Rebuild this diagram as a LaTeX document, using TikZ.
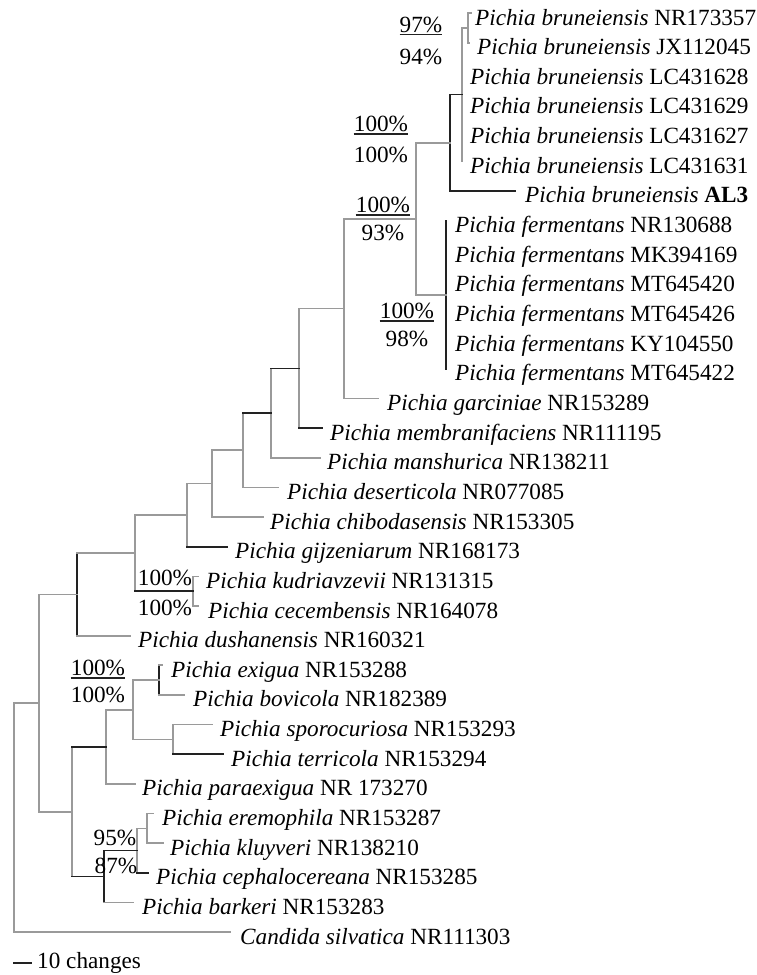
\documentclass[tikz,border=0pt]{standalone}
\usepackage{fontspec}
\setmainfont{Liberation Serif}
\definecolor{treegrey}{HTML}{9A9A9A}
\definecolor{treedark}{HTML}{222222}
\begin{document}
\begin{tikzpicture}[x=1pt,y=-1pt,
  gl/.style={draw=treegrey,line width=1.7pt,line cap=rect},
  dl/.style={draw=treedark,line width=1.7pt,line cap=rect},
  lab/.style={anchor=base west,inner sep=0pt,font=\fontsize{23.2}{26}\selectfont},
  pct/.style={anchor=base,inner sep=0pt,font=\fontsize{23.2}{26}\selectfont},
  ul/.style={draw=treedark,line width=1.3pt}]
\fill[white] (0,0) rectangle (757,975);
\useasboundingbox (0,0) rectangle (757,975);
% leaf ends
\coordinate (e1) at (471,13);
\coordinate (e2) at (469,42.65);
\coordinate (e3) at (462,72.3);
\coordinate (e4) at (462,101.95);
\coordinate (e5) at (462,131.6);
\coordinate (e6) at (462,161.25);
\coordinate (e7) at (515,190.9);
\coordinate (e8) at (446,220.55);
\coordinate (e13) at (446,368.8);
\coordinate (e14) at (378,398.45);
\coordinate (e15) at (322,428.1);
\coordinate (e16) at (320,457.75);
\coordinate (e17) at (278,487.4);
\coordinate (e18) at (263,517.05);
\coordinate (e19) at (227,546.7);
\coordinate (e20) at (198,576.35);
\coordinate (e21) at (198,606);
\coordinate (e22) at (130,635.65);
\coordinate (e23) at (162,665.3);
\coordinate (e24) at (184,694.95);
\coordinate (e25) at (212,724.6);
\coordinate (e26) at (223,754.25);
\coordinate (e27) at (135,783.9);
\coordinate (e28) at (153,813.55);
\coordinate (e29) at (163,843.2);
\coordinate (e30) at (148,872.85);
\coordinate (e31) at (133,902.5);
\coordinate (e32) at (230,932.15);
% internal nodes
\coordinate (L) at (468,27.8);
\coordinate (K) at (462,94.5);
\coordinate (J) at (450,142.7);
\coordinate (X) at (446,294.7);
\coordinate (W) at (416,218.7);
\coordinate (I) at (344,308.6);
\coordinate (H) at (299,368.4);
\coordinate (G) at (271,413.1);
\coordinate (F) at (243,450.2);
\coordinate (E) at (212,483.6);
\coordinate (D) at (187,515.2);
\coordinate (V) at (193,591.2);
\coordinate (C) at (135,553.2);
\coordinate (B) at (77,594.4);
\coordinate (P) at (159,680.1);
\coordinate (Q) at (173,739.4);
\coordinate (O) at (133,709.8);
\coordinate (N) at (106,746.8);
\coordinate (U) at (147,828.4);
\coordinate (T) at (137,850.6);
\coordinate (S) at (104,876.6);
\coordinate (M) at (72,811.7);
\coordinate (A) at (39,703);
\coordinate (R) at (14,703);
% verticals
\draw[gl] (L |- e1) -- (L |- e2);
\draw[gl] (K |- L) -- (K |- e6);
\draw[dl] (J |- K) -- (J |- e7);
\draw[dl] (X |- e8) -- (X |- e13);
\draw[gl] (W |- J) -- (W |- X);
\draw[gl] (I |- W) -- (I |- e14);
\draw[gl] (H |- I) -- (H |- e15);
\draw[gl] (G |- H) -- (G |- e16);
\draw[gl] (F |- G) -- (F |- e17);
\draw[gl] (E |- F) -- (E |- e18);
\draw[gl] (D |- E) -- (D |- e19);
\draw[gl] (V |- e20) -- (V |- e21);
\draw[gl] (C |- D) -- (C |- V);
\draw[dl] (B |- C) -- (B |- e22);
\draw[dl] (P |- e23) -- (P |- e24);
\draw[gl] (Q |- e25) -- (Q |- e26);
\draw[gl] (O |- P) -- (O |- Q);
\draw[gl] (N |- O) -- (N |- e27);
\draw[gl] (U |- e28) -- (U |- e29);
\draw[gl] (T |- U) -- (T |- e30);
\draw[dl] (S |- T) -- (S |- e31);
\draw[gl] (M |- N) -- (M |- S);
\draw[gl] (A |- B) -- (A |- M);
\draw[gl] (R |- A) -- (R |- e32);
% horizontals to internal nodes
\draw[gl] (K |- L) -- (L);
\draw[dl] (J |- K) -- (K);
\draw[gl] (W |- J) -- (J);
\draw[gl] (W |- X) -- (X);
\draw[gl] (I |- W) -- (W);
\draw[gl] (H |- I) -- (I);
\draw[dl] (G |- H) -- (H);
\draw[dl] (F |- G) -- (G);
\draw[gl] (E |- F) -- (F);
\draw[gl] (D |- E) -- (E);
\draw[gl] (C |- D) -- (D);
\draw[dl] (C |- V) -- (V);
\draw[gl] (B |- C) -- (C);
\draw[gl] (A |- B) -- (B);
\draw[gl] (R |- A) -- (A);
\draw[gl] (A |- M) -- (M);
\draw[dl] (M |- N) -- (N);
\draw[gl] (N |- O) -- (O);
\draw[gl] (O |- P) -- (P);
\draw[gl] (O |- Q) -- (Q);
\draw[dl] (M |- S) -- (S);
\draw[dl] (S |- T) -- (T);
\draw[gl] (T |- U) -- (U);
% horizontals to leaves
\draw[gl] (L |- e1) -- (e1);
\draw[gl] (L |- e2) -- (e2);
\draw[dl] (J |- e7) -- (e7);
\draw[gl] (I |- e14) -- (e14);
\draw[dl] (H |- e15) -- (e15);
\draw[gl] (G |- e16) -- (e16);
\draw[gl] (F |- e17) -- (e17);
\draw[gl] (E |- e18) -- (e18);
\draw[dl] (D |- e19) -- (e19);
\draw[gl] (V |- e20) -- (e20);
\draw[gl] (V |- e21) -- (e21);
\draw[gl] (B |- e22) -- (e22);
\draw[gl] (P |- e23) -- (e23);
\draw[gl] (P |- e24) -- (e24);
\draw[gl] (Q |- e25) -- (e25);
\draw[dl] (Q |- e26) -- (e26);
\draw[gl] (N |- e27) -- (e27);
\draw[gl] (U |- e28) -- (e28);
\draw[gl] (U |- e29) -- (e29);
\draw[dl] (T |- e30) -- (e30);
\draw[gl] (S |- e31) -- (e31);
\draw[gl] (R |- e32) -- (e32);
% leaf labels
\node[lab] (t1) at (475,25) {\textit{Pichia bruneiensis} NR173357};
\node[lab] (t2) at (477,54.65) {\textit{Pichia bruneiensis} JX112045};
\node[lab] (t3) at (470,84.3) {\textit{Pichia bruneiensis} LC431628};
\node[lab] (t4) at (470,113.95) {\textit{Pichia bruneiensis} LC431629};
\node[lab] (t5) at (470,143.6) {\textit{Pichia bruneiensis} LC431627};
\node[lab] (t6) at (470,173.25) {\textit{Pichia bruneiensis} LC431631};
\node[lab] (t7) at (525,202.9) {\textit{Pichia bruneiensis} \textbf{AL3}};
\node[lab] (t8) at (455,232.55) {\textit{Pichia fermentans} NR130688};
\node[lab] (t9) at (455,262.2) {\textit{Pichia fermentans} MK394169};
\node[lab] (t10) at (455,291.85) {\textit{Pichia fermentans} MT645420};
\node[lab] (t11) at (455,321.5) {\textit{Pichia fermentans} MT645426};
\node[lab] (t12) at (455,351.15) {\textit{Pichia fermentans} KY104550};
\node[lab] (t13) at (455,380.8) {\textit{Pichia fermentans} MT645422};
\node[lab] (t14) at (387,410.45) {\textit{Pichia garciniae} NR153289};
\node[lab] (t15) at (330,440.1) {\textit{Pichia membranifaciens} NR111195};
\node[lab] (t16) at (327,469.75) {\textit{Pichia manshurica} NR138211};
\node[lab] (t17) at (287,499.4) {\textit{Pichia deserticola} NR077085};
\node[lab] (t18) at (270,529.05) {\textit{Pichia chibodasensis} NR153305};
\node[lab] (t19) at (235,558.7) {\textit{Pichia gijzeniarum} NR168173};
\node[lab] (t20) at (206,588.35) {\textit{Pichia kudriavzevii} NR131315};
\node[lab] (t21) at (208,618) {\textit{Pichia cecembensis} NR164078};
\node[lab] (t22) at (138,647.65) {\textit{Pichia dushanensis} NR160321};
\node[lab] (t23) at (171,677.3) {\textit{Pichia exigua} NR153288};
\node[lab] (t24) at (193,706.95) {\textit{Pichia bovicola} NR182389};
\node[lab] (t25) at (220,736.6) {\textit{Pichia sporocuriosa} NR153293};
\node[lab] (t26) at (231,766.25) {\textit{Pichia terricola} NR153294};
\node[lab] (t27) at (142,795.9) {\textit{Pichia paraexigua} NR 173270};
\node[lab] (t28) at (162,825.55) {\textit{Pichia eremophila} NR153287};
\node[lab] (t29) at (170,855.2) {\textit{Pichia kluyveri} NR138210};
\node[lab] (t30) at (156,884.85) {\textit{Pichia cephalocereana} NR153285};
\node[lab] (t31) at (142,914.5) {\textit{Pichia barkeri} NR153283};
\node[lab] (t32) at (240,944.15) {\textit{Candida silvatica} NR111303};
% support values
\node[pct] (p1) at (421,32) {97\%};
\node[pct] (p2) at (421,64) {94\%};
\node[pct] (p3) at (381,131.5) {100\%};
\node[pct] (p4) at (381,162) {100\%};
\node[pct] (p5) at (383,212) {100\%};
\node[pct] (p6) at (383,240) {93\%};
\node[pct] (p7) at (407,318) {100\%};
\node[pct] (p8) at (407,346) {98\%};
\node[pct] (p9) at (165,585) {100\%};
\node[pct] (p10) at (165,615) {100\%};
\node[pct] (p11) at (98,675) {100\%};
\node[pct] (p12) at (98,702) {100\%};
\node[pct] (p13) at (115,845) {95\%};
\node[pct] (p14) at (116,873) {87\%};
\draw[ul] ([yshift=-2.5pt]p1.base west) -- ([yshift=-2.5pt]p1.base east);
\draw[ul] ([yshift=-2.5pt]p3.base west) -- ([yshift=-2.5pt]p3.base east);
\draw[ul] ([yshift=-3pt]p5.base west) -- ([yshift=-3pt]p5.base east);
\draw[ul] ([yshift=-3pt]p7.base west) -- ([yshift=-3pt]p7.base east);
\draw[ul] ([yshift=-3pt]p11.base west) -- ([yshift=-3pt]p11.base east);
% scale bar
\coordinate (sb1) at (13,963);
\coordinate (sb2) at (32,963);
\draw[draw=treedark,line width=1.6pt] (sb1) -- (sb2);
\node[lab] (sbl) at (37,968) {10 changes};
\end{tikzpicture}
\end{document}
